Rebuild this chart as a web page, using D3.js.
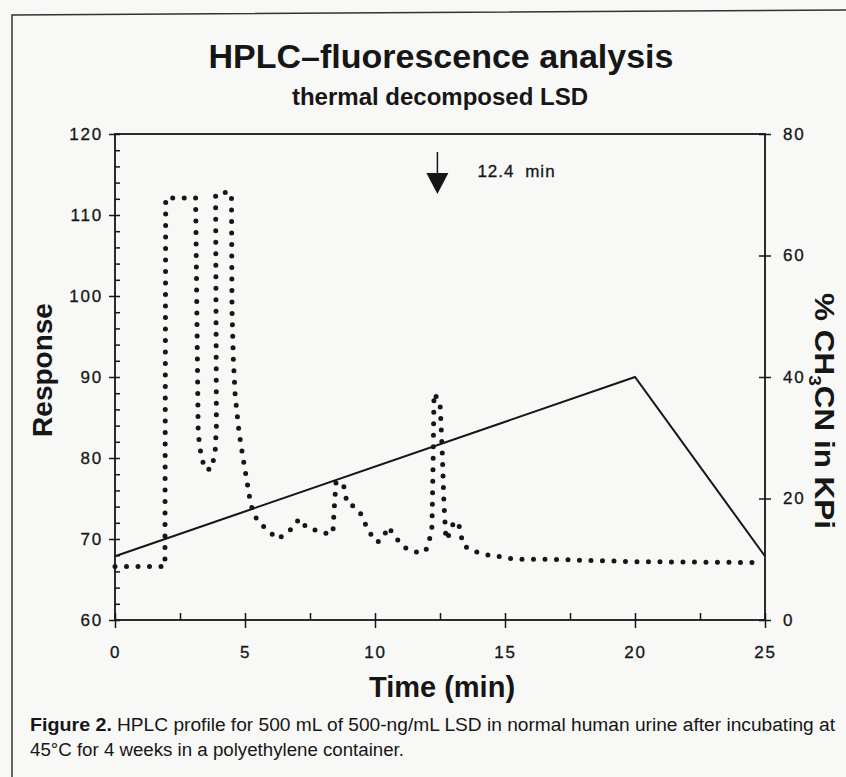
<!DOCTYPE html>
<html>
<head>
<meta charset="utf-8">
<script src="https://cdn.jsdelivr.net/npm/d3@7"></script>
<style>
  body { margin: 0; background: #f8f8f6; }
  text { font-family: "Liberation Sans", Arial, Helvetica, sans-serif; fill: #161616; }
</style>
</head>
<body>
<script>
// fluorescence trace
var traceTime = [0, 1.92, 1.95, 3.1, 3.2, 3.3, 3.45, 3.7, 3.85, 3.9, 3.87, 4.15, 4.48,
  4.5, 4.55, 4.62, 4.77, 4.92, 5.08, 5.19, 5.31, 5.54, 5.85, 6.08, 6.27, 6.54, 6.85,
  7.08, 7.38, 7.69, 8.04, 8.38, 8.42, 8.5, 8.77, 8.85, 8.92, 9.15, 9.42, 9.58, 9.73,
  9.92, 10.08, 10.31, 10.5, 10.69, 10.85, 11.0, 11.23, 11.54, 11.85, 12.04, 12.19,
  12.23, 12.27, 12.5, 12.58, 12.65, 12.73, 12.88, 13.04, 13.23, 13.31, 13.38, 13.69,
  14.04, 14.5, 14.88, 15.38, 16.65, 20, 24.7];
var traceResponse = [66.6, 66.6, 112.1, 112.1, 83, 80.6, 78.6, 78.6, 80.6, 84, 112.5, 112.8, 112.7,
  98.3, 92.3, 87.8, 83.2, 80.1, 77.0, 74.9, 73.2, 72.0, 71.2, 70.5, 70.0, 70.6, 71.4,
  72.5, 71.4, 71.1, 70.7, 70.7, 73.2, 77.0, 76.9, 75.8, 74.4, 74.1, 73.3, 72.2, 71.1,
  70.2, 69.6, 70.1, 71.5, 70.7, 70.0, 69.3, 68.8, 68.4, 68.3, 69.0, 71.5,
  78.5, 88.0, 86.8, 81.4, 74.5, 69.9, 70.7, 72.2, 71.7, 70.5, 69.3, 68.6,
  68.3, 67.9, 67.8, 67.5, 67.5, 67.2, 67.1];

// solvent gradient (% CH3CN)
var gradTime = [0, 20, 25];
var gradPct = [10.5, 40, 10.5];

var markTime = 12.4;
var markLabel = "12.4 min";

var xTicks = [0, 5, 10, 15, 20, 25];
var xMinor = d3.range(0, 25.01, 2.5);
var yTicks = [60, 70, 80, 90, 100, 110, 120];
var yMinor = d3.range(60, 120.01, 2);
var y2Ticks = [0, 20, 40, 60, 80];

var width = 846, height = 777;
var margin = { top: 134, right: 81, bottom: 157, left: 115 };
var iw = width - margin.left - margin.right,
  ih = height - margin.top - margin.bottom;

var x = d3.scaleLinear().domain([0, 25]).range([0, iw]);
var y = d3.scaleLinear().domain([60, 120]).range([ih, 0]);
var y2 = d3.scaleLinear().domain([0, 80]).range([ih, 0]);

var svg = d3.select("body")
  .append("svg")
  .attr("width", width)
  .attr("height", height);

// page frame from the scan
svg.append("path")
  .attr("d", "M12,777 L12,15 L846,10")
  .attr("fill", "none")
  .attr("stroke", "#333")
  .attr("stroke-width", 1.5);

svg.append("text")
  .attr("x", 441).attr("y", 68)
  .attr("text-anchor", "middle")
  .attr("font-size", 34).attr("font-weight", "bold")
  .text("HPLC\u2013fluorescence analysis");

svg.append("text")
  .attr("x", 440).attr("y", 105)
  .attr("text-anchor", "middle")
  .attr("font-size", 24).attr("font-weight", "bold")
  .text("thermal decomposed LSD");

var g = svg.append("g")
  .attr("transform", "translate(" + margin.left + "," + margin.top + ")");

function styleAxis(sel) {
  sel.select(".domain").remove();
  sel.selectAll("line").attr("stroke", "#161616").attr("stroke-width", 1.5);
  sel.selectAll("text")
    .attr("font-size", 17)
    .attr("letter-spacing", 1.8)
    .attr("fill", "#161616")
    .attr("stroke", "#161616")
    .attr("stroke-width", 0.3)
    .attr("font-family", "'Liberation Sans', Arial, sans-serif");
}

// left axis: labelled ticks outside, minor ticks inside
g.append("g")
  .call(d3.axisLeft(y).tickValues(yTicks).tickSize(6).tickPadding(6).tickSizeOuter(0))
  .call(styleAxis);
g.append("g")
  .call(d3.axisRight(y).tickValues(yMinor).tickSize(5).tickFormat("").tickSizeOuter(0))
  .call(styleAxis);

// bottom axis
g.append("g")
  .attr("transform", "translate(0," + ih + ")")
  .call(d3.axisBottom(x).tickValues(xTicks).tickSize(8).tickPadding(18).tickSizeOuter(0))
  .call(styleAxis);
g.append("g")
  .attr("transform", "translate(0," + ih + ")")
  .call(d3.axisTop(x).tickValues(xMinor).tickSize(7).tickFormat("").tickSizeOuter(0))
  .call(styleAxis);

// right axis (% CH3CN)
g.append("g")
  .attr("transform", "translate(" + iw + ",0)")
  .call(d3.axisRight(y2).tickValues(y2Ticks).tickSize(6).tickPadding(12).tickSizeOuter(0))
  .call(styleAxis);
g.append("g")
  .attr("transform", "translate(" + iw + ",0)")
  .call(d3.axisLeft(y2).tickValues(y2Ticks).tickSize(6).tickFormat("").tickSizeOuter(0))
  .call(styleAxis);

g.append("rect")
  .attr("width", iw).attr("height", ih)
  .attr("fill", "none")
  .attr("stroke", "#161616")
  .attr("stroke-width", 1.8);

// gradient line
var gradLine = d3.line()
  .x(function(d) { return x(d[0]); })
  .y(function(d) { return y2(d[1]); });

g.append("path")
  .datum(gradTime.map(function(t, i) { return [t, gradPct[i]]; }))
  .attr("d", gradLine)
  .attr("fill", "none")
  .attr("stroke", "#161616")
  .attr("stroke-width", 2);

// dotted fluorescence trace
var traceLine = d3.line()
  .x(function(d) { return x(d[0]); })
  .y(function(d) { return y(d[1]); });

g.append("path")
  .datum(traceTime.map(function(t, i) { return [t, traceResponse[i]]; }))
  .attr("d", traceLine)
  .attr("fill", "none")
  .attr("stroke", "#161616")
  .attr("stroke-width", 5)
  .attr("stroke-linecap", "round")
  .attr("stroke-linejoin", "round")
  .attr("stroke-dasharray", "0,11.5");

// 12.4 min marker
var mx = x(markTime);
g.append("line")
  .attr("x1", mx).attr("x2", mx)
  .attr("y1", 18).attr("y2", 40)
  .attr("stroke", "#161616").attr("stroke-width", 1.5);
g.append("path")
  .attr("d", "M" + (mx - 11) + ",39 L" + (mx + 11) + ",39 L" + mx + ",60 Z")
  .attr("fill", "#161616");
g.append("text")
  .attr("x", mx + 40).attr("y", 43)
  .attr("font-size", 17)
  .attr("letter-spacing", 1)
  .attr("word-spacing", 5)
  .attr("stroke", "#161616").attr("stroke-width", 0.3)
  .text(markLabel);

// axis titles
svg.append("text")
  .attr("transform", "translate(52,370) rotate(-90)")
  .attr("text-anchor", "middle")
  .attr("font-size", 28).attr("font-weight", "bold")
  .text("Response");

svg.append("text")
  .attr("x", 442).attr("y", 697)
  .attr("text-anchor", "middle")
  .attr("font-size", 29).attr("font-weight", "bold")
  .text("Time (min)");

var rl = svg.append("text")
  .attr("transform", "translate(815,411) rotate(90)")
  .attr("text-anchor", "middle")
  .attr("font-size", 28).attr("font-weight", "bold")
  .attr("textLength", 236).attr("lengthAdjust", "spacingAndGlyphs");
rl.append("tspan").text("% CH");
rl.append("tspan").attr("font-size", 17).attr("dy", 6).text("3");
rl.append("tspan").attr("dy", -6).text("CN in KPi");

// caption
var capFont = "'Liberation Sans Narrow', 'DejaVu Sans Condensed', 'Liberation Sans', sans-serif";
svg.append("text")
  .attr("x", 30).attr("y", 731)
  .attr("font-family", capFont)
  .attr("font-size", 18).attr("font-weight", "bold")
  .attr("textLength", 82).attr("lengthAdjust", "spacingAndGlyphs")
  .text("Figure 2.");
svg.append("text")
  .attr("x", 117).attr("y", 731)
  .attr("font-family", capFont)
  .attr("font-size", 18)
  .attr("textLength", 718).attr("lengthAdjust", "spacingAndGlyphs")
  .text("HPLC profile for 500 mL of 500-ng/mL LSD in normal human urine after incubating at");
svg.append("text")
  .attr("x", 30).attr("y", 756)
  .attr("font-family", capFont)
  .attr("font-size", 18)
  .attr("textLength", 374).attr("lengthAdjust", "spacingAndGlyphs")
  .text("45\u00b0C for 4 weeks in a polyethylene container.");
</script>
</body>
</html>
